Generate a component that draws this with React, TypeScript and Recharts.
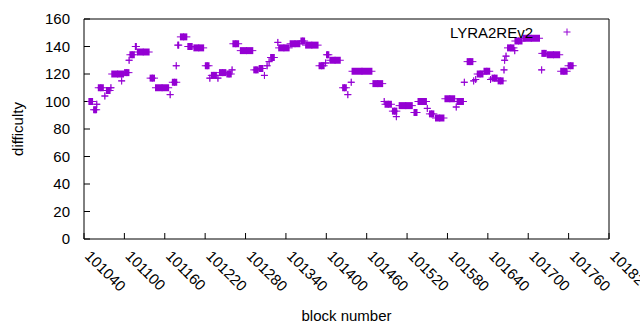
import { ScatterChart, Scatter, XAxis, YAxis, ErrorBar, Legend } from 'recharts';

// runs of consecutive blocks that share one difficulty value
const runStart = [
  101047, 101054, 101059, 101061, 101071, 101073, 101080, 101081, 101096, 101100,
  101107, 101108, 101116, 101119, 101138, 101146, 101168, 101171, 101177, 101179,
  101183, 101194, 101203, 101220, 101227, 101229, 101239, 101241, 101252, 101260,
  101261, 101272, 101292, 101300, 101308, 101312, 101315, 101317, 101328, 101329,
  101346, 101362, 101369, 101389, 101399, 101400, 101405, 101424, 101432, 101437,
  101438, 101469, 101486, 101487, 101498, 101504, 101508, 101530, 101536, 101550,
  101553, 101562, 101576, 101593, 101594, 101605, 101609, 101619, 101622, 101624,
  101634, 101644, 101646, 101655, 101664, 101665, 101667, 101669, 101680, 101680,
  101692, 101720, 101720, 101728, 101748, 101759,
];
const runEnd = [
  101053, 101059, 101059, 101069, 101071, 101079, 101080, 101099, 101096, 101107,
  101107, 101115, 101118, 101137, 101145, 101166, 101168, 101178, 101177, 101181,
  101193, 101201, 101218, 101226, 101227, 101237, 101239, 101251, 101259, 101260,
  101270, 101291, 101299, 101306, 101308, 101312, 101315, 101323, 101328, 101345,
  101361, 101368, 101388, 101397, 101399, 101404, 101421, 101430, 101432, 101437,
  101468, 101484, 101486, 101497, 101505, 101504, 101528, 101535, 101549, 101550,
  101560, 101575, 101591, 101593, 101604, 101605, 101618, 101619, 101622, 101633,
  101643, 101644, 101654, 101663, 101664, 101665, 101667, 101679, 101680, 101691,
  101717, 101720, 101727, 101747, 101758, 101767,
];
const runDifficulty = [
  100, 94, 98, 110, 104, 108, 110, 120, 115, 121,
  130, 134, 140, 136, 117, 110, 105, 114, 126, 141,
  147, 140, 139, 126, 117, 119, 117, 121, 120, 123,
  142, 137, 123, 124, 119, 126, 129, 132, 143, 139,
  142, 144, 141, 126, 128, 134, 130, 110, 105, 114,
  122, 113, 100, 98, 93, 89, 97, 92, 100, 95,
  91, 88, 102, 96, 100, 114, 129, 115, 116, 120,
  122, 116, 117, 115, 123, 130, 133, 139, 137, 144,
  146, 123, 135, 134, 122, 126,
];

const xTicks = [
  101040, 101100, 101160, 101220, 101280, 101340, 101400,
  101460, 101520, 101580, 101640, 101700, 101760, 101820,
];
const yTicks = [0, 20, 40, 60, 80, 100, 120, 140, 160];

const VIOLET = '#9400d3';
const FONT = '"Liberation Sans", Arial, sans-serif';

// gnuplot draws one "+" per block; a run of them merges into a filled bar with arms
const runs = runStart.map((s, i) => ({
  block: (s + runEnd[i]) / 2,
  difficulty: runDifficulty[i],
  body: (runEnd[i] - s) / 2 + 0.5,
  arms: (runEnd[i] - s) / 2 + 5,
}));

const Plus = (props: any) => {
  const { cx, cy } = props;
  return (
    <path
      d={`M${cx - 3.5},${cy}H${cx + 3.5}M${cx},${cy - 3.5}V${cy + 3.5}`}
      stroke={VIOLET}
      strokeWidth={1}
      fill="none"
    />
  );
};

const XTick = ({ x, y, payload }: any) => (
  <text
    x={x + 4}
    y={y}
    transform={`rotate(45, ${x + 4}, ${y})`}
    fontSize={15}
    fontFamily={FONT}
    fill="#000"
    dominantBaseline="central"
  >
    {payload.value}
  </text>
);

const YTitle = ({ viewBox }: any) => {
  const cx = viewBox.x + 17;
  const cy = viewBox.y + viewBox.height / 2;
  return (
    <text
      x={cx}
      y={cy}
      transform={`rotate(-90, ${cx}, ${cy})`}
      textAnchor="middle"
      dominantBaseline="central"
      fontSize={15}
      fontFamily={FONT}
      fill="#000"
    >
      difficulty
    </text>
  );
};

const KeyBox = ({ payload }: any) => (
  <svg width={200} height={20}>
    <text x={113} y={14} textAnchor="end" fontSize={15} fontFamily={FONT} fill="#000">
      {payload?.[0]?.value}
    </text>
    <path d="M143.5,8H150.5M147,4.5V11.5" stroke={VIOLET} strokeWidth={1} />
  </svg>
);

export default function App() {
  return (
    <div style={{ position: 'absolute', left: 0, top: 0, width: 640, height: 330, background: '#fff' }}>
      <ScatterChart
        width={640}
        height={330}
        margin={{ top: 9, right: 21, left: 0, bottom: 0 }}
        style={{ fontFamily: FONT }}
      >
        <XAxis
          dataKey="block"
          type="number"
          domain={[101040, 101820]}
          allowDataOverflow
          ticks={xTicks}
          interval={0}
          height={91}
          stroke="#000"
          tickSize={-6}
          tickMargin={20}
          tick={<XTick />}
          label={{ value: 'block number', position: 'insideBottom', offset: 9, fontSize: 15, fill: '#000' }}
        />
        <XAxis
          xAxisId="top"
          orientation="top"
          type="number"
          domain={[101040, 101820]}
          allowDataOverflow
          ticks={xTicks}
          interval={0}
          height={10}
          stroke="#000"
          tickSize={-6}
          tick={false}
        />
        <YAxis
          dataKey="difficulty"
          type="number"
          domain={[0, 160]}
          allowDataOverflow
          ticks={yTicks}
          interval={0}
          width={84}
          stroke="#000"
          tickSize={-6}
          tickMargin={20}
          tick={{ fontSize: 15, fill: '#000', fontFamily: FONT }}
          label={{ content: <YTitle /> }}
        />
        <YAxis
          yAxisId="right"
          orientation="right"
          type="number"
          domain={[0, 160]}
          allowDataOverflow
          ticks={yTicks}
          interval={0}
          width={10}
          stroke="#000"
          tickSize={-6}
          tick={false}
        />
        <Legend
          layout="horizontal"
          verticalAlign="middle"
          align="center"
          wrapperStyle={{ top: 24, left: 420, width: 200, height: 20 }}
          content={<KeyBox />}
        />
        <Scatter
          name="LYRA2REv2"
          data={runs}
          fill={VIOLET}
          shape={Plus}
          isAnimationActive={false}
        >
          <ErrorBar dataKey="body" direction="x" width={0} strokeWidth={7} stroke={VIOLET} isAnimationActive={false} />
          <ErrorBar dataKey="arms" direction="x" width={0} strokeWidth={1} stroke={VIOLET} isAnimationActive={false} />
        </Scatter>
      </ScatterChart>
    </div>
  );
}
